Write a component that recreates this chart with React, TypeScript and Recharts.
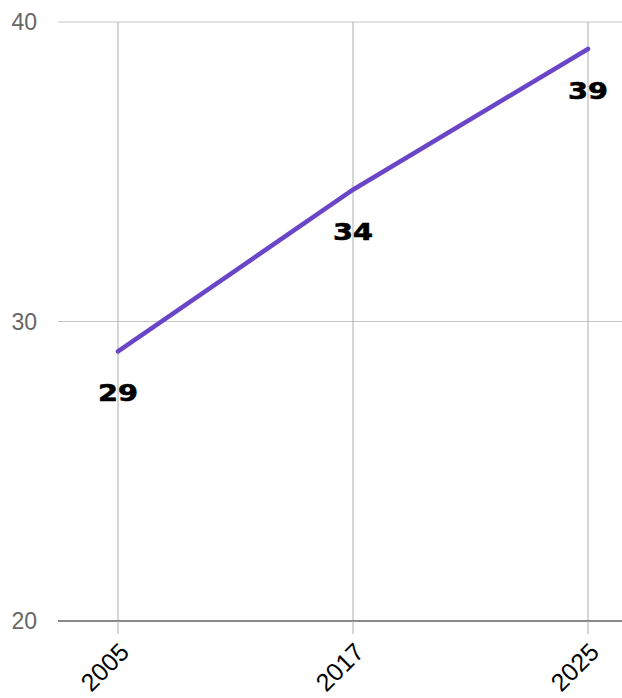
import React from 'react';
import { LineChart, Line, XAxis, YAxis, CartesianGrid, LabelList, ReferenceLine } from 'recharts';

const years = ['2005', '2017', '2025'];
const values = [29.0, 34.4, 39.1];
const yTicks = [20, 30, 40];

const data = years.map((year, i) => ({ year, value: values[i] }));

function ValueLabel(props: any) {
    const { x, y, value } = props;
    const text = String(Math.round(Number(value)));
    return (
        <text
            x={x}
            y={Number(y) + 42}
            textAnchor="middle"
            dominantBaseline="central"
            fontFamily="'DejaVu Sans', sans-serif"
            fontWeight="bold"
            fontSize={23}
            fill="#000"
            stroke="#000"
            strokeWidth={0.6}
            textLength={40}
            lengthAdjust="spacingAndGlyphs"
        >
            {text}
        </text>
    );
}

function App() {
    return (
        <div style={{ position: 'absolute', left: 0, top: 0, fontFamily: "'Liberation Sans', Arial, sans-serif" }}>
            <LineChart width={622} height={698} data={data} margin={{ top: 22, right: 0, left: 0, bottom: 0 }}>
                <CartesianGrid vertical={false} stroke="#c4c4c4" />
                {years.map((yr) => (
                    <ReferenceLine key={yr} x={yr} stroke="#adadad" />
                ))}
                <XAxis
                    dataKey="year"
                    height={77}
                    padding={{ left: 60, right: 34 }}
                    axisLine={{ stroke: '#333333' }}
                    tickLine={{ stroke: '#adadad' }}
                    tickSize={13}
                    tickMargin={7}
                    angle={-45}
                    textAnchor="end"
                    tick={{ fill: '#000', fontSize: 25 }}
                    interval={0}
                />
                <YAxis
                    width={58}
                    domain={[20, 40]}
                    ticks={yTicks}
                    axisLine={false}
                    tickLine={false}
                    tickSize={0}
                    tickMargin={21}
                    tick={{ fill: '#666666', fontSize: 23 }}
                />
                <Line
                    type="linear"
                    dataKey="value"
                    stroke="#6a45c8"
                    strokeWidth={4.5}
                    strokeLinecap="round"
                    dot={false}
                    activeDot={false}
                    isAnimationActive={false}
                >
                    <LabelList dataKey="value" content={ValueLabel} />
                </Line>
            </LineChart>
        </div>
    );
}

export default App;
